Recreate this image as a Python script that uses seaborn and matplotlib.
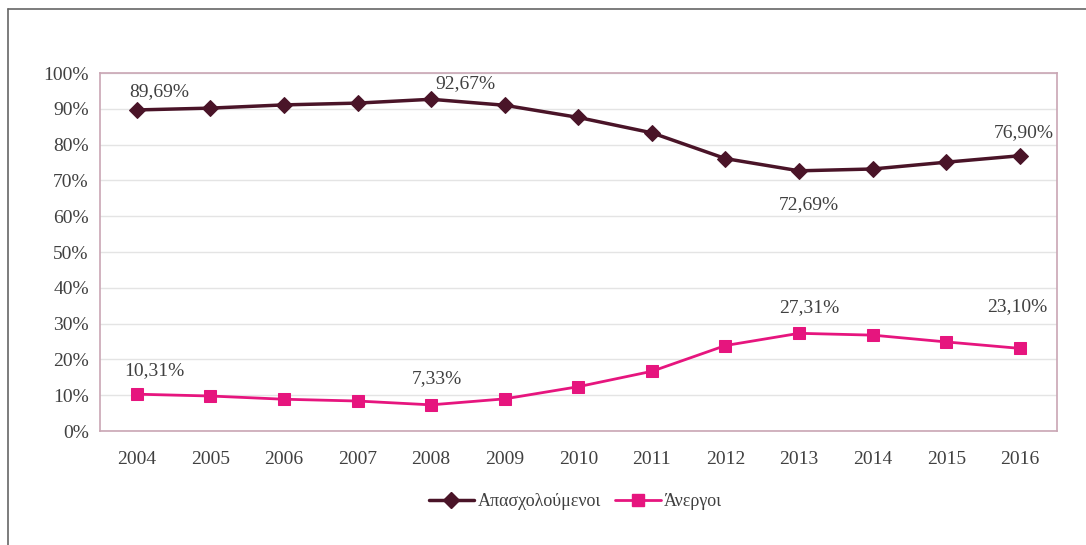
import matplotlib
matplotlib.use("Agg")
import matplotlib.pyplot as plt
from matplotlib.lines import Line2D
import seaborn as sns
import pandas as pd

years = [2004, 2005, 2006, 2007, 2008, 2009, 2010, 2011, 2012, 2013, 2014, 2015, 2016]
employed = [89.69, 90.2, 91.1, 91.6, 92.67, 91.0, 87.6, 83.3, 76.1, 72.69, 73.2, 75.1, 76.90]
unemployed = [10.31, 9.8, 8.9, 8.4, 7.33, 9.0, 12.4, 16.7, 23.9, 27.31, 26.8, 24.9, 23.10]
labels_emp = {0: "89,69%", 4: "92,67%", 9: "72,69%", 12: "76,90%"}
labels_unemp = {0: "10,31%", 4: "7,33%", 9: "27,31%", 12: "23,10%"}
# label offsets in pixels (dx, dy), measured from reference
off_emp = {0: (23, 18), 4: (34, 16), 9: (10, -34), 12: (4, 23)}
off_unemp = {0: (18, 24), 4: (6, 26), 9: (10, 26), 12: (-3, 42)}

sns.set_style("white")
plt.rcParams['font.family'] = ['Liberation Serif', 'DejaVu Serif']

df = pd.DataFrame({"pos": range(len(years)), "emp": employed, "unemp": unemployed})

fig = plt.figure(figsize=(10.86, 5.45), dpi=100)
ax = fig.add_axes([0.092, 0.209, 0.881, 0.657])

# outer frame (top and left edges visible)
fig.add_artist(Line2D([8 / 1086, 1.0], [1 - 9 / 545] * 2, transform=fig.transFigure,
                      color="#666666", linewidth=1.2))
fig.add_artist(Line2D([8 / 1086] * 2, [0, 1 - 9 / 545], transform=fig.transFigure,
                      color="#666666", linewidth=1.2))

c_emp = "#4a1428"
c_un = "#e6157e"
sns.lineplot(data=df, x="pos", y="emp", ax=ax, color=c_emp, linewidth=2.5,
             marker="D", markersize=8, markeredgecolor=c_emp)
sns.lineplot(data=df, x="pos", y="unemp", ax=ax, color=c_un, linewidth=2,
             marker="s", markersize=9, markeredgecolor=c_un)

tc = "#404040"
for i, t in labels_emp.items():
    dx, dy = off_emp[i]
    ax.annotate(t, (i, employed[i]), xytext=(dx * 0.72, dy * 0.72), textcoords="offset points",
                ha="center", va="center", fontsize=14, color=tc)
for i, t in labels_unemp.items():
    dx, dy = off_unemp[i]
    ax.annotate(t, (i, unemployed[i]), xytext=(dx * 0.72, dy * 0.72), textcoords="offset points",
                ha="center", va="center", fontsize=14, color=tc)

ax.set_xlim(-0.5, len(years) - 0.5)
ax.set_ylim(0, 100)
ax.set_yticks(range(0, 101, 10))
ax.set_yticklabels([f"{v}%" for v in range(0, 101, 10)])
ax.set_xticks(range(len(years)))
ax.set_xticklabels([str(y) for y in years])
ax.tick_params(axis="both", labelsize=14, colors=tc, length=0)
ax.tick_params(axis="x", pad=14)
ax.tick_params(axis="y", pad=8)
ax.set_xlabel("")
ax.set_ylabel("")
ax.yaxis.grid(True, color="#e4e4e4", linewidth=1)
for s in ax.spines.values():
    s.set_color("#c9a6b4")
    s.set_linewidth(1.2)

handles = [Line2D([], [], color=c_emp, marker="D", markersize=8, linewidth=2.5),
           Line2D([], [], color=c_un, marker="s", markersize=9, linewidth=2)]
fig.legend(handles, ["Απασχολούμενοι", "Άνεργοι"], loc="center", bbox_to_anchor=(0.53, 0.08),
           ncol=2, frameon=False, fontsize=13, handlelength=2.5, handletextpad=0.2,
           columnspacing=0.8, labelcolor=tc)

fig.savefig("out.png", dpi=100)
